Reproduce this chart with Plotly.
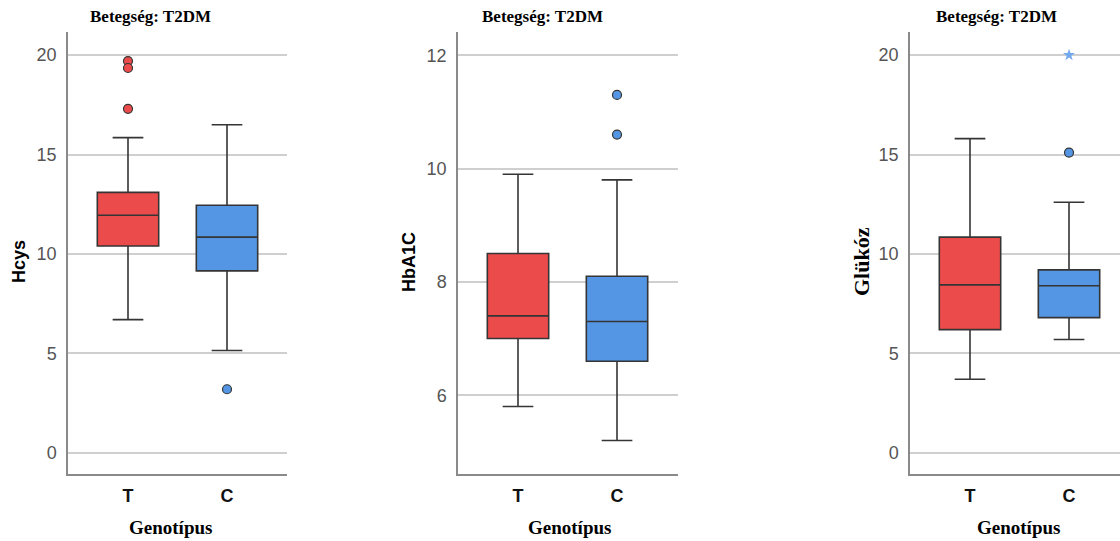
import plotly.graph_objects as go

# Genotype groups
genotypes = ["T", "C"]

# Hcys summary statistics per genotype
hcys_q1 = [10.4, 9.15]
hcys_median = [11.95, 10.85]
hcys_q3 = [13.1, 12.45]
hcys_low = [6.7, 5.15]
hcys_high = [15.85, 16.5]
hcys_out_T = [19.7, 19.35, 17.3]
hcys_out_C = [3.2]

# HbA1C summary statistics per genotype
hba_q1 = [7.0, 6.6]
hba_median = [7.4, 7.3]
hba_q3 = [8.5, 8.1]
hba_low = [5.8, 5.2]
hba_high = [9.9, 9.8]
hba_out_T = []
hba_out_C = [11.3, 10.6]

# Glükóz summary statistics per genotype
glu_q1 = [6.2, 6.8]
glu_median = [8.45, 8.4]
glu_q3 = [10.85, 9.2]
glu_low = [3.7, 5.7]
glu_high = [15.8, 12.6]
glu_out_T = []
glu_out_C = [15.1]
glu_extreme_C = [20.0]

RED = "#EC4B4B"
BLUE = "#5496E3"
EDGE = "#353535"
SANS = "Arial, Liberation Sans, sans-serif"
SERIF = "Liberation Serif, Times New Roman, serif"

panels = [
    dict(q1=hcys_q1, med=hcys_median, q3=hcys_q3, lo=hcys_low, hi=hcys_high,
         outT=hcys_out_T, outC=hcys_out_C, ext=[], yrange=[-1.06, 21.16],
         dtick=5, ytitle="Hcys", yfont=SANS, ysize=18,
         xdom=[68 / 1120, 287 / 1120], xrange=[-0.606, 1.606]),
    dict(q1=hba_q1, med=hba_median, q3=hba_q3, lo=hba_low, hi=hba_high,
         outT=hba_out_T, outC=hba_out_C, ext=[], yrange=[4.61, 12.41],
         dtick=2, ytitle="HbA1C", yfont=SANS, ysize=18,
         xdom=[458 / 1120, 678 / 1120], xrange=[-0.606, 1.616]),
    dict(q1=glu_q1, med=glu_median, q3=glu_q3, lo=glu_low, hi=glu_high,
         outT=glu_out_T, outC=glu_out_C, ext=glu_extreme_C, yrange=[-1.06, 21.16],
         dtick=5, ytitle="Glükóz", yfont=SERIF, ysize=22,
         xdom=[910 / 1120, 1.0], xrange=[-0.606, 1.515]),
]

fig = go.Figure()
ydom = [1 - 474 / 541, 1 - 32 / 541]
title_x = [150, 542, 996]
genot_x = [170, 569, 1018]
ytitle_x = [19, 409, 861]

for i, p in enumerate(panels):
    ax = "" if i == 0 else str(i + 1)
    xref, yref = "x" + ax, "y" + ax
    for j, (g, col) in enumerate(zip(genotypes, [RED, BLUE])):
        fig.add_trace(go.Box(
            x=[g], q1=[p["q1"][j]], median=[p["med"][j]], q3=[p["q3"][j]],
            lowerfence=[p["lo"][j]], upperfence=[p["hi"][j]],
            fillcolor=col, line=dict(color=EDGE, width=1.6),
            width=0.62, whiskerwidth=0.5, boxpoints=False,
            xaxis=xref, yaxis=yref, showlegend=False, hoverinfo="skip",
        ))
    for g, col, vals in [("T", RED, p["outT"]), ("C", BLUE, p["outC"])]:
        if vals:
            fig.add_trace(go.Scatter(
                x=[g] * len(vals), y=vals, mode="markers",
                marker=dict(size=9, color=col, line=dict(color=EDGE, width=1.2)),
                xaxis=xref, yaxis=yref, showlegend=False, hoverinfo="skip",
            ))
    if p["ext"]:
        fig.add_trace(go.Scatter(
            x=["C"] * len(p["ext"]), y=p["ext"], mode="markers",
            marker=dict(symbol="star", size=9, color="#72A9EE",
                        line=dict(width=0)),
            xaxis=xref, yaxis=yref, showlegend=False, hoverinfo="skip",
        ))

    fig.update_layout(**{
        "xaxis" + ax: dict(
            domain=p["xdom"], anchor=yref, type="category",
            categoryorder="array", categoryarray=genotypes,
            range=p["xrange"], showgrid=False, zeroline=False,
            showline=True, linecolor="#8a8a8a", linewidth=1.5,
            ticks="", tickfont=dict(family=SANS, size=18, color="#111", weight="bold"),
            ticklabelstandoff=5,
        ),
        "yaxis" + ax: dict(
            domain=ydom, anchor=xref, range=p["yrange"], dtick=p["dtick"],
            showgrid=True, gridcolor="#cfcfcf", gridwidth=1.5, zeroline=False,
            showline=True, linecolor="#8a8a8a", linewidth=1.5, ticks="",
            tickfont=dict(family=SANS, size=18, color="#555"),
            ticklabelstandoff=6,
        ),
    })

    fig.add_annotation(
        text="<b>Betegség: T2DM</b>", x=title_x[i], y=541 - 17,
        font=dict(family=SERIF, size=17, color="#000"),
    )
    fig.add_annotation(
        text="<b>Genotípus</b>", x=genot_x[i], y=541 - 527,
        font=dict(family=SERIF, size=19, color="#000"),
    )
    fig.add_annotation(
        text="<b>" + p["ytitle"] + "</b>", x=ytitle_x[i], y=541 - 262,
        textangle=-90, font=dict(family=p["yfont"], size=p["ysize"], color="#000"),
    )

# Annotations are placed in pixel coordinates, converted to paper units
for a in fig.layout.annotations:
    a.x = a.x / 1120
    a.y = a.y / 541
    a.xref = "paper"
    a.yref = "paper"
    a.xanchor = "center"
    a.yanchor = "middle"
    a.showarrow = False

fig.update_layout(
    width=1120, height=541, margin=dict(l=0, r=0, t=0, b=0),
    paper_bgcolor="white", plot_bgcolor="white", showlegend=False,
)

fig.write_html("out.html")
